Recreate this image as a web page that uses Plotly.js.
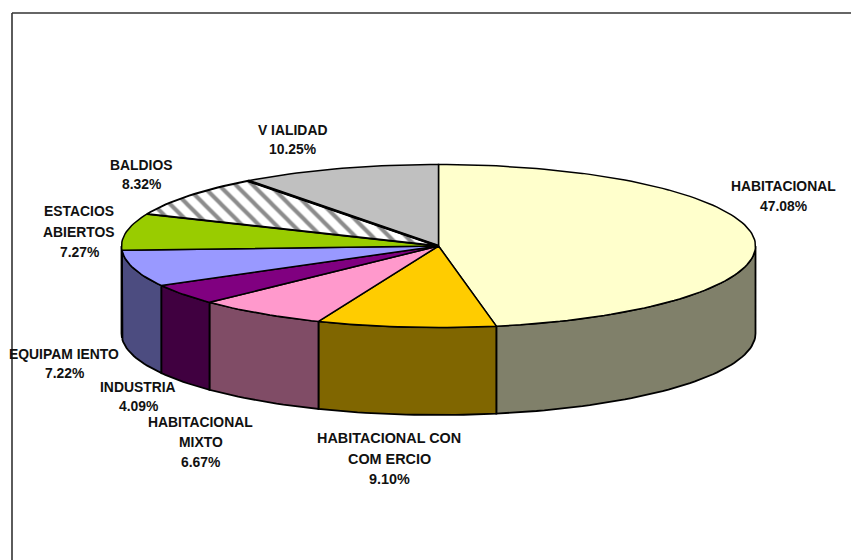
<!DOCTYPE html>
<html>
<head>
<meta charset="utf-8">
<script src="https://cdn.plot.ly/plotly-3.0.1.min.js"></script>
<style>html,body{margin:0;padding:0;background:#fff}#chart{width:851px;height:560px}</style>
</head>
<body>
<div id="chart"></div>
<script>
// Data
const categories = ["HABITACIONAL", "HABITACIONAL CON COMERCIO", "HABITACIONAL MIXTO", "INDUSTRIA", "EQUIPAMIENTO", "ESTACIOS ABIERTOS", "BALDIOS", "VIALIDAD"];
const values = [47.08, 9.10, 6.67, 4.09, 7.22, 7.27, 8.32, 10.25];
const labelLines = [
  ["HABITACIONAL", "47.08%"],
  ["HABITACIONAL CON", "COM ERCIO", "9.10%"],
  ["HABITACIONAL", "MIXTO", "6.67%"],
  ["INDUSTRIA", "4.09%"],
  ["EQUIPAM IENTO", "7.22%"],
  ["ESTACIOS", "ABIERTOS", "7.27%"],
  ["BALDIOS", "8.32%"],
  ["V IALIDAD", "10.25%"]
];

// Styles
const topColors = ["#FFFFCC", "#FFCC00", "#FF99CC", "#800080", "#9999FF", "#99CC00", "#FFFFFF", "#C0C0C0"];
const wallColors = ["#80806A", "#806600", "#804C66", "#400040", "#4C4C80", "#4C6600", "#808080", "#606060"];

// Layout geometry of the tilted pie, on axes that span the page
const cx = 438.5, cy = 246, rx = 317, ry = 81.5, depth = 87.5;
const labelCenterX = [783.5, 389, 200.5, 138, 64, 79, 141, 292];
const labelFirstY = [186, 438, 422, 387, 354, 211, 165, 130];
const labelStep = [20, 20.5, 20, 18.5, 19, 20.5, 19, 19];
const labelSize = [13.9, 14.4, 13.9, 13.9, 13.9, 13.9, 13.9, 13.9];

const total = values.reduce((a, b) => a + b, 0);
function arc(a0, a1, dy) {
  const xs = [], ys = [];
  const n = Math.max(2, Math.ceil(Math.abs(a1 - a0) / 1.5));
  for (let i = 0; i <= n; i++) {
    const t = (a0 + (a1 - a0) * i / n) * Math.PI / 180;
    xs.push(cx + rx * Math.sin(t));
    ys.push(cy - ry * Math.cos(t) + dy);
  }
  return {xs, ys};
}

const walls = [], tops = [], edges = [];
let acc = 0;
values.forEach((v, i) => {
  const a0 = acc / total * 360;
  acc += v;
  const a1 = acc / total * 360;
  const w0 = Math.max(a0, 90), w1 = Math.min(a1, 270);
  if (w1 > w0) {
    const up = arc(w0, w1, 0), low = arc(w1, w0, depth);
    walls.push({
      type: "scatter", mode: "lines", name: categories[i] + " (lateral)",
      x: up.xs.concat(low.xs, [up.xs[0]]),
      y: up.ys.concat(low.ys, [up.ys[0]]),
      fill: "toself", fillcolor: wallColors[i],
      line: {color: "#000000", width: 1.8},
      hoverinfo: "skip", showlegend: false
    });
  }
  const a = arc(a0, a1, 0);
  const isHatched = categories[i] === "BALDIOS";
  const trace = {
    type: "scatter", mode: "lines", name: categories[i],
    x: [cx].concat(a.xs, [cx]),
    y: [cy].concat(a.ys, [cy]),
    fill: "toself", fillcolor: topColors[i],
    line: {color: "#000000", width: isHatched ? 1.9 : 1.5},
    text: v.toFixed(2) + "%", hoverinfo: "name+text", showlegend: false
  };
  if (isHatched) {
    trace.fillpattern = {shape: "\\", bgcolor: "#FFFFFF", fgcolor: "#8C8C8C", size: 12, solidity: 0.34};
    const last = a.xs.length - 1;
    edges.push({
      type: "scatter", mode: "lines", name: categories[i] + " (borde)",
      x: [cx, a.xs[last]], y: [cy, a.ys[last]],
      line: {color: "#000000", width: 2.8}, hoverinfo: "skip", showlegend: false
    });
  }
  tops.push(trace);
});

const annotations = [];
labelLines.forEach((lines, i) => {
  lines.forEach((t, j) => {
    annotations.push({
      xref: "x", yref: "y", x: labelCenterX[i], y: labelFirstY[i] + j * labelStep[i],
      text: t, showarrow: false, xanchor: "center", yanchor: "middle",
      borderpad: 0, font: {family: "Liberation Sans, Arial, sans-serif", size: labelSize[i], color: "#111111", weight: 700}
    });
  });
});

const layout = {
  width: 851, height: 560,
  margin: {l: 0, r: 0, t: 0, b: 0},
  paper_bgcolor: "#FFFFFF", plot_bgcolor: "#FFFFFF",
  showlegend: false,
  xaxis: {range: [0, 851], visible: false, fixedrange: true},
  yaxis: {range: [560, 0], visible: false, fixedrange: true},
  annotations,
  shapes: [
    {type: "line", xref: "x", yref: "y", x0: 12, x1: 12, y0: 13, y1: 560, line: {color: "#333333", width: 1.6}},
    {type: "line", xref: "x", yref: "y", x0: 12, x1: 851, y0: 13, y1: 13, line: {color: "#333333", width: 1.6}}
  ]
};

Plotly.newPlot("chart", walls.concat(tops, edges), layout, {displayModeBar: false, staticPlot: true});
</script>
</body>
</html>
